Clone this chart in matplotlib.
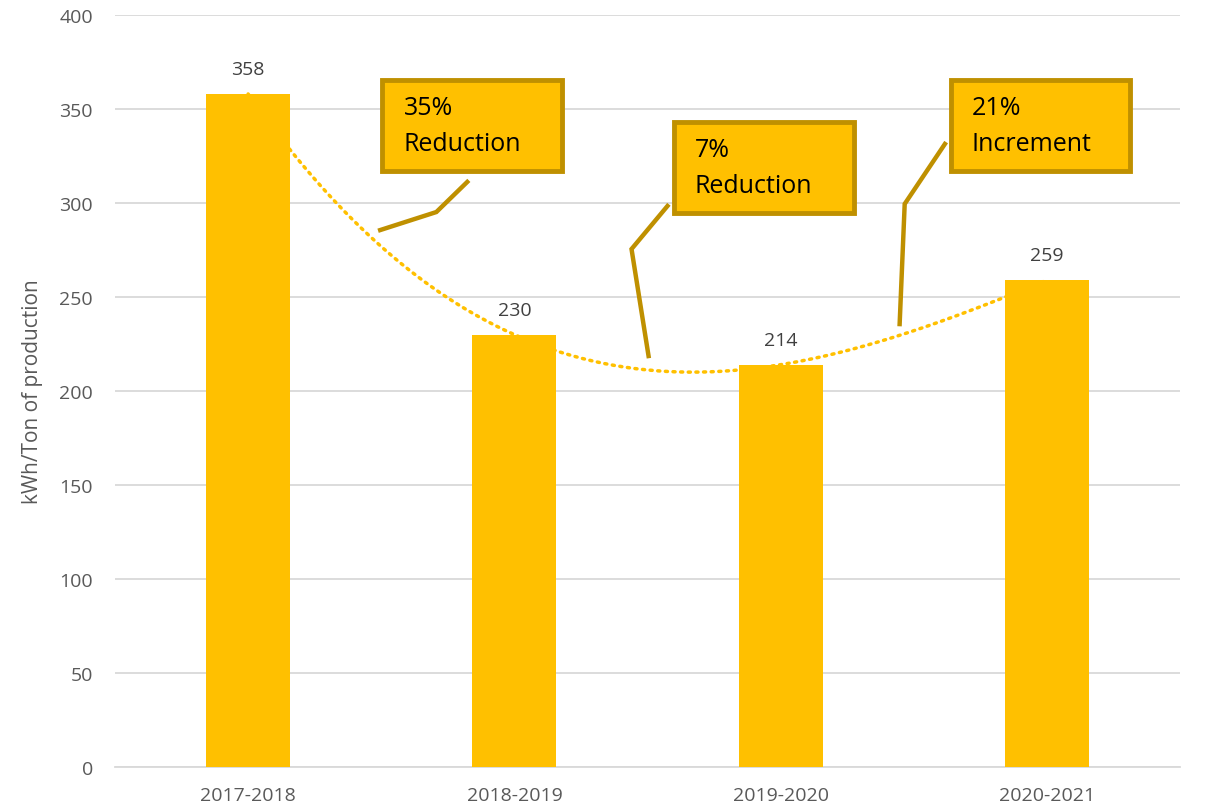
import numpy as np
import matplotlib.pyplot as plt
from matplotlib.patches import Rectangle

years = ['2017-2018', '2018-2019', '2019-2020', '2020-2021']
energy = [358, 230, 214, 259]

# callout boxes: (x0, y0, x1, y1) in data coords, two text lines
callout_text = [('35%', 'Reduction'), ('7%', 'Reduction'), ('21%', 'Increment')]
callout_box = [(0.504, 317.0, 1.180, 365.4),
               (1.598, 294.7, 2.274, 343.1),
               (2.639, 317.0, 3.312, 365.4)]
callout_line = [([0.823, 0.707, 0.496], [311.2, 295.2, 285.6]),
                ([1.575, 1.440, 1.504], [298.4, 275.5, 218.6]),
                ([2.617, 2.466, 2.447], [331.4, 299.5, 235.6])]

gold = '#FFC000'
dark_gold = '#BF9000'
grey = '#595959'

plt.rcParams['font.family'] = ['Open Sans', 'DejaVu Sans']

fig = plt.figure(figsize=(12.06, 8.12), dpi=100)
ax = fig.add_axes([115 / 1206, 44 / 812, 1065 / 1206, 752 / 812])

x = np.arange(len(years))

# polynomial trendline (order 3), behind the bars
coef = np.polyfit(x, energy, 3)
xt = np.linspace(x[0], x[-1], 300)
ax.plot(xt, np.polyval(coef, xt), color=gold, lw=2.5, ls=(0, (0.6, 1.6)),
        dash_capstyle='round', zorder=2)

ax.bar(x, energy, width=0.315, color=gold, zorder=3)

for xi, v in zip(x, energy):
    ax.annotate(str(v), (xi, v), xytext=(0, 18), textcoords='offset points',
                ha='center', va='center', fontsize=14, color='#404040', zorder=5)

for (t1, t2), (x0, y0, x1, y1), (lx, ly) in zip(callout_text, callout_box, callout_line):
    ax.plot(lx, ly, color=dark_gold, lw=3.2, solid_joinstyle='miter', zorder=6)
    ax.add_patch(Rectangle((x0, y0), x1 - x0, y1 - y0, facecolor=gold,
                           edgecolor=dark_gold, lw=3.5, zorder=6))
    tx = x0 + (x1 - x0) * 0.118
    h = y1 - y0
    ax.text(tx, y1 - h * 0.30, t1, ha='left', va='center', fontsize=18, color='black', zorder=7)
    ax.text(tx, y1 - h * 0.70, t2, ha='left', va='center', fontsize=18, color='black', zorder=7)

ax.set_xlim(-0.5, 3.5)
ax.set_ylim(0, 400)
ax.set_yticks(range(0, 401, 50))
ax.set_xticks(x)
ax.set_xticklabels(years)
ax.grid(axis='y', color='#D9D9D9', lw=1.3, zorder=0)
ax.set_axisbelow(True)
for s in ['top', 'right', 'left']:
    ax.spines[s].set_visible(False)
ax.spines['bottom'].set_color('#D9D9D9')
ax.spines['bottom'].set_linewidth(1.3)
ax.tick_params(axis='both', length=0, colors=grey, labelsize=14)
ax.tick_params(axis='y', pad=16)
ax.tick_params(axis='x', pad=14)
ax.set_ylabel('kWh/Ton of production', fontsize=15, color=grey)
ax.yaxis.set_label_coords(-0.068, 0.5)

fig.savefig('out.png', dpi=100)
